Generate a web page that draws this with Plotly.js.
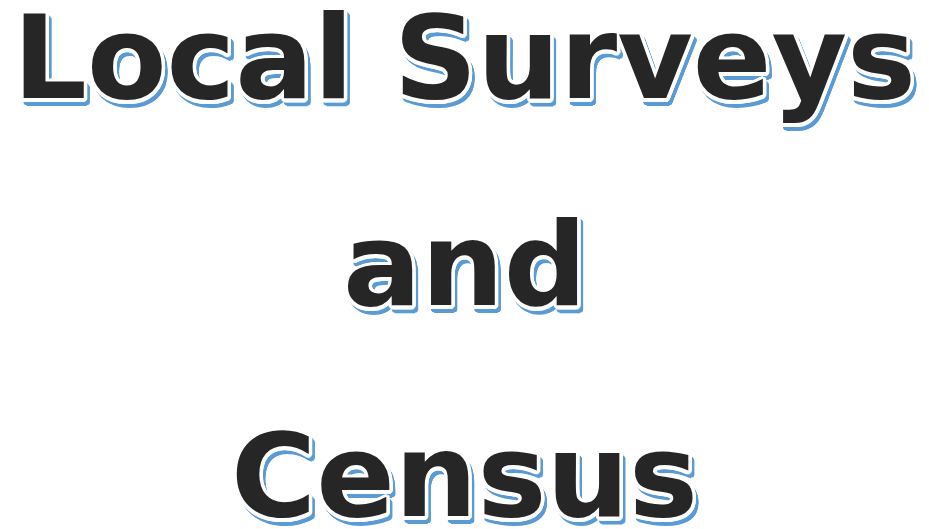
<!DOCTYPE html>
<html>
<head>
<meta charset="utf-8">
<script src="https://cdn.plot.ly/plotly-3.0.1.min.js"></script>
<style>html,body{margin:0;padding:0;background:#fff;}#chart{width:929px;height:529px;}</style>
</head>
<body>
<div id="chart"></div>
<script>
const titleLines = ["Local Surveys", "and", "Census"];
const linePositions = [0.892, 0.5, 0.102];

const textColor = "#262626";
const shadowColor = "#5b9bd5";

function ring(cx, cy, r, color) {
  const out = [];
  for (let k = 0; k < 16; k++) {
    const a = k * Math.PI / 8;
    out.push((cx + r * Math.cos(a)).toFixed(2) + "px " + (cy + r * Math.sin(a)).toFixed(2) + "px 0 " + color);
  }
  return out;
}
const shadowParts = []
  .concat(ring(0.3, 0.6, 1.5, "#ffffff"))
  .concat(ring(0.3, 0.6, 3.2, "#ffffff"))
  .concat(["3px 4.7px 0 " + shadowColor])
  .concat(ring(3, 4.7, 1.5, shadowColor))
  .concat(ring(3, 4.7, 3, shadowColor));
const shadow = shadowParts.join(", ");

const annotations = titleLines.map((t, i) => ({
  text: t,
  xref: "paper", yref: "paper",
  x: 0.5, y: linePositions[i],
  xanchor: "center", yanchor: "middle",
  showarrow: false,
  font: {family: "DejaVu Sans", size: 116, weight: "bold", color: textColor, shadow: shadow}
}));

const layout = {
  width: 929, height: 529,
  margin: {l: 0, r: 0, t: 0, b: 0},
  paper_bgcolor: "#ffffff", plot_bgcolor: "#ffffff",
  xaxis: {visible: false, range: [0, 1]},
  yaxis: {visible: false, range: [0, 1]},
  showlegend: false,
  annotations: annotations
};

Plotly.newPlot("chart", [], layout, {displayModeBar: false, staticPlot: true});
</script>
</body>
</html>
